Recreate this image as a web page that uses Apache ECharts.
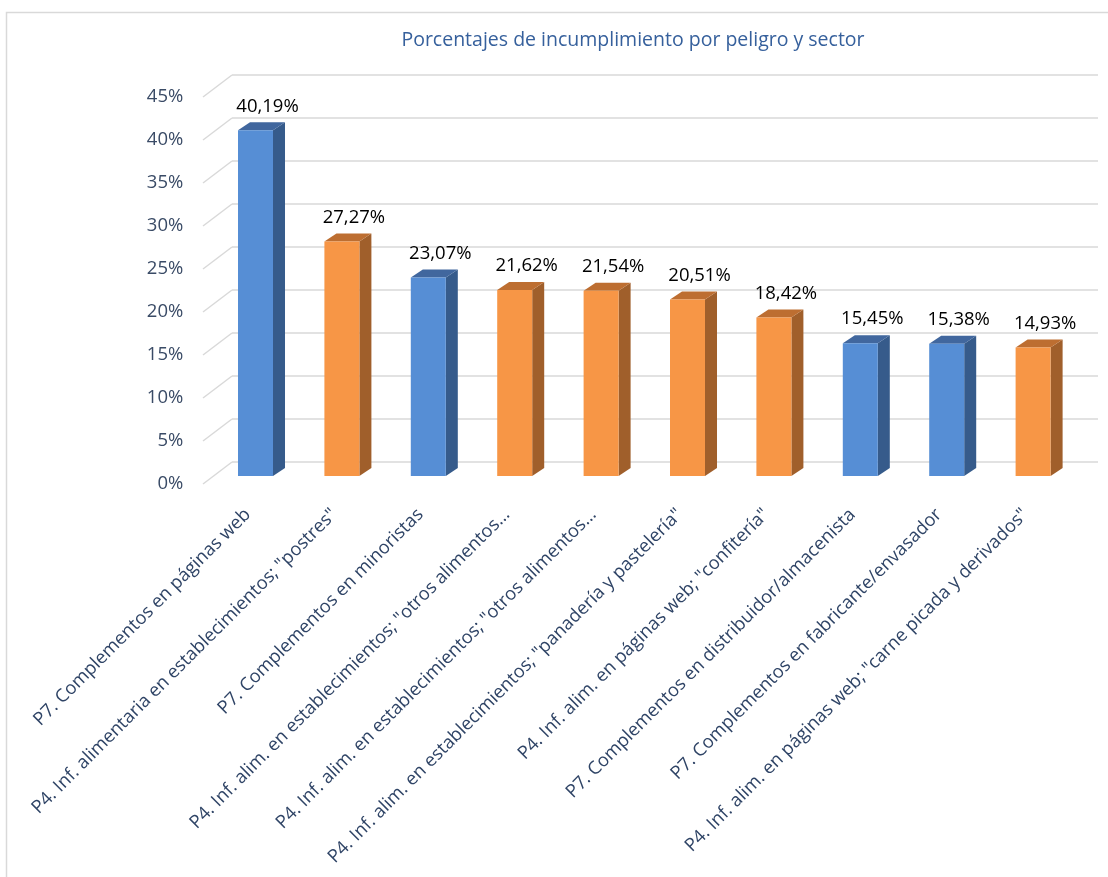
<!DOCTYPE html>
<html>
<head>
<meta charset="utf-8">
<script src="https://cdn.jsdelivr.net/npm/echarts@6/dist/echarts.min.js"></script>
<style>
html,body{margin:0;padding:0;background:#fff;}
#chart{width:1108px;height:877px;}
</style>
</head>
<body>
<div id="chart"></div>
<script>
// ---- data ----
const categories = [
  'P7. Complementos en páginas web',
  'P4. Inf. alimentaria en establecimientos; "postres"',
  'P7. Complementos en minoristas',
  'P4. Inf. alim. en establecimientos; "otros alimentos…',
  'P4. Inf. alim. en establecimientos; "otros alimentos…',
  'P4. Inf. alim. en establecimientos; "panadería y pastelería"',
  'P4. Inf. alim. en páginas web; "confitería"',
  'P7. Complementos en distribuidor/almacenista',
  'P7. Complementos en fabricante/envasador',
  'P4. Inf. alim. en páginas web; "carne picada y derivados"'
];
const values = [40.19, 27.27, 23.07, 21.62, 21.54, 20.51, 18.42, 15.45, 15.38, 14.93];
const groups = ['P7', 'P4', 'P7', 'P4', 'P4', 'P4', 'P4', 'P7', 'P7', 'P4'];
const yTicks = [0, 5, 10, 15, 20, 25, 30, 35, 40, 45];
const title = 'Porcentajes de incumplimiento por peligro y sector';

// ---- styles ----
const palette = {
  P7: { front: '#568ED5', side: '#365B8B', top: '#41679E' },
  P4: { front: '#F79646', side: '#A05F2B', top: '#BD6E31' }
};
const FONT = 'Open Sans';
const gridColor = '#D9D9D9';

const chart = echarts.init(document.getElementById('chart'), null, { renderer: 'canvas' });

const barData = values.map((v, i) => [i, v]);
const tickData = yTicks.map(t => [0, t]);

const option = {
  backgroundColor: '#fff',
  animation: false,
  title: {
    text: title,
    left: 628, top: 25, textAlign: 'center',
    textStyle: { fontFamily: FONT, fontSize: 19.5, fontWeight: 'normal', color: '#36609C' }
  },
  graphic: [{
    type: 'rect', shape: { x: 6.5, y: 12.5, width: 1200, height: 1000 },
    style: { fill: 'none', stroke: '#D9D9D9', lineWidth: 1.5 }, silent: true, z: -1
  }],
  grid: [
    { left: 232, width: 866, top: 75, height: 387 },       // back wall
    { left: 212.3, width: 864, top: 97, height: 387 },     // front edge (labels)
    { left: 212.3, width: 864, top: 89, height: 387 }      // bars
  ],
  xAxis: [
    { gridIndex: 0, type: 'category', data: categories, show: false },
    {
      gridIndex: 1, type: 'category', data: categories,
      axisLine: { show: false }, axisTick: { show: false },
      axisLabel: { interval: 0, rotate: 45, margin: 20, padding: [0, 11, 0, 0], fontFamily: FONT, fontSize: 18.3, color: '#2F4466' }
    },
    { gridIndex: 2, type: 'category', data: categories, show: false }
  ],
  yAxis: [
    {
      gridIndex: 0, type: 'value', min: 0, max: 45, interval: 5,
      axisLabel: { show: false }, axisLine: { show: false }, axisTick: { show: false },
      splitLine: { show: true, lineStyle: { color: gridColor, width: 1.5 } }
    },
    {
      gridIndex: 1, type: 'value', min: 0, max: 45, interval: 5,
      axisLine: { show: false }, axisTick: { show: false }, splitLine: { show: false },
      axisLabel: { margin: 29, fontFamily: FONT, fontSize: 18.5, color: '#3A4B66', formatter: v => v + '%' }
    },
    {
      gridIndex: 2, type: 'value', min: 0, max: 45, interval: 5, show: false
    }
  ],
  series: [
    {
      type: 'custom', xAxisIndex: 1, yAxisIndex: 1, data: tickData, silent: true, z: 1,
      renderItem: function (params, api) {
        const y = api.coord([0, api.value(1)])[1];
        const x0 = params.coordSys.x - 9.3;
        return {
          type: 'line',
          shape: { x1: x0, y1: y, x2: x0 + 29, y2: y - 22 },
          style: { stroke: gridColor, lineWidth: 1.5 }
        };
      }
    },
    {
      type: 'custom', xAxisIndex: 2, yAxisIndex: 2, data: barData, z: 5,
      renderItem: function (params, api) {
        const idx = api.value(0);
        const val = api.value(1);
        const top = api.coord([idx, val]);
        const base = api.coord([idx, 0]);
        const band = api.size([1, 0])[0];
        const w = band * 0.405;
        const dx = band * 0.139, dy = -8;
        const xl = top[0] - w / 2, xr = top[0] + w / 2;
        const yt = top[1], yb = base[1];
        const c = palette[groups[params.dataIndex]];
        return {
          type: 'group',
          children: [
            { type: 'polygon', shape: { points: [[xr, yt], [xr + dx, yt + dy], [xr + dx, yb + dy], [xr, yb]] }, style: { fill: c.side } },
            { type: 'polygon', shape: { points: [[xl, yt], [xl + dx, yt + dy], [xr + dx, yt + dy], [xr, yt]] }, style: { fill: c.top } },
            { type: 'rect', shape: { x: xl, y: yt, width: w, height: yb - yt }, style: { fill: c.front } },
            {
              type: 'text',
              style: {
                x: top[0] + 12, y: yt - 24,
                text: val.toFixed(2).replace('.', ',') + '%',
                align: 'center', verticalAlign: 'middle',
                fontFamily: FONT, fontSize: 18.5, fill: '#000'
              }
            }
          ]
        };
      }
    }
  ]
};
chart.setOption(option);
</script>
</body>
</html>
